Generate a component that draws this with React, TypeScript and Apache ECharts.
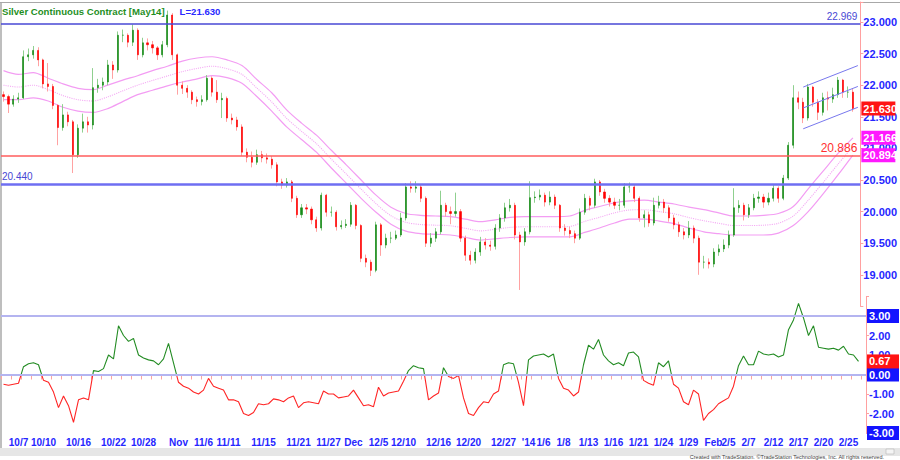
import React, { useEffect, useRef } from 'react';
import * as echarts from 'echarts';

// ---- Price bars (one bar ≈ half a trading day), open = previous close ----
const firstOpen = 21.85;
const closes = [
  21.82, 21.70, 21.78, 21.80, 22.45, 22.48, 22.55, 22.40, 22.02, 21.98,
  21.68, 21.33, 21.53, 21.42, 20.90, 21.32, 21.42, 21.37, 21.96, 22.00,
  22.05, 22.32, 22.24, 22.79, 22.79, 22.68, 22.87, 22.48, 22.67, 22.64,
  22.59, 22.48, 22.64, 23.11, 22.48, 22.00, 21.95, 21.89, 21.77, 21.74,
  21.77, 22.11, 21.89, 21.77, 21.79, 21.48, 21.45, 21.34, 20.94, 20.86,
  20.78, 20.90, 20.85, 20.83, 20.74, 20.47, 20.42, 20.47, 20.21, 19.95,
  20.06, 20.04, 19.87, 19.74, 20.26, 19.99, 19.99, 19.76, 19.78, 19.80,
  20.10, 19.78, 19.26, 19.20, 19.07, 19.79, 19.47, 19.58, 19.58, 19.63,
  19.90, 20.39, 20.37, 20.39, 20.21, 19.50, 19.58, 19.68, 20.10, 20.00,
  19.97, 20.00, 19.58, 19.31, 19.23, 19.36, 19.52, 19.47, 19.45, 19.74,
  19.90, 20.06, 20.10, 19.63, 19.52, 19.68, 20.22, 20.23, 20.26, 20.15,
  20.23, 20.10, 19.74, 19.70, 19.65, 19.58, 19.99, 20.21, 20.10, 20.47,
  20.31, 20.21, 20.15, 20.10, 20.10, 20.39, 20.39, 20.21, 19.90, 19.95,
  19.82, 20.10, 20.15, 20.06, 19.90, 19.79, 19.68, 19.63, 19.74, 19.58,
  19.20, 19.20, 19.17, 19.36, 19.41, 19.47, 19.63, 20.06, 20.10, 19.95,
  20.06, 20.21, 20.23, 20.15, 20.21, 20.37, 20.21, 20.53, 21.05, 21.80,
  21.73, 21.48, 21.97, 21.73, 21.57, 21.80, 21.78, 21.85, 22.08, 21.89,
  21.89, 21.63,
];
const highs = [
  21.90, 21.85, 21.84, 21.88, 22.55, 22.58, 22.62, 22.60, 22.42, 22.35,
  22.02, 21.70, 21.70, 21.58, 21.45, 21.38, 21.55, 21.50, 22.27, 22.10,
  22.12, 22.40, 22.38, 22.85, 22.88, 22.82, 22.96, 22.90, 22.75, 22.74,
  22.70, 22.62, 22.70, 23.18, 23.14, 22.50, 22.06, 22.00, 21.92, 21.82,
  21.84, 22.16, 22.14, 22.08, 21.88, 21.82, 21.55, 21.50, 21.38, 21.00,
  20.95, 20.98, 20.96, 20.92, 20.88, 20.78, 20.52, 20.53, 20.50, 20.25,
  20.12, 20.12, 20.08, 19.92, 20.30, 20.28, 20.08, 20.02, 19.86, 19.88,
  20.15, 20.12, 19.80, 19.32, 19.24, 19.84, 19.82, 19.65, 19.68, 19.70,
  19.98, 20.45, 20.48, 20.48, 20.42, 20.24, 19.66, 19.74, 20.33, 20.14,
  20.08, 20.30, 20.04, 19.62, 19.38, 19.42, 19.60, 19.58, 19.54, 19.80,
  19.96, 20.14, 20.20, 20.14, 19.68, 19.74, 20.48, 20.32, 20.35, 20.30,
  20.32, 20.27, 20.12, 19.80, 19.76, 19.70, 20.05, 20.28, 20.25, 20.52,
  20.50, 20.36, 20.26, 20.22, 20.20, 20.45, 20.46, 20.42, 20.24, 20.02,
  20.00, 20.22, 20.25, 20.20, 20.10, 19.95, 19.84, 19.74, 19.85, 19.78,
  19.62, 19.30, 19.26, 19.42, 19.48, 19.56, 19.70, 20.37, 20.18, 20.14,
  20.12, 20.28, 20.32, 20.28, 20.30, 20.42, 20.40, 20.58, 21.10, 22.00,
  21.90, 21.80, 22.02, 21.99, 21.78, 21.88, 21.90, 21.96, 22.13, 22.10,
  21.98, 21.95,
];
const lows = [
  21.74, 21.56, 21.66, 21.72, 21.78, 22.38, 22.42, 22.30, 21.95, 21.90,
  21.62, 21.05, 21.28, 21.35, 20.61, 20.85, 21.25, 21.25, 21.30, 21.88,
  21.92, 22.00, 22.10, 22.20, 22.68, 22.60, 22.62, 22.40, 22.44, 22.55,
  22.50, 22.40, 22.44, 22.60, 22.40, 21.85, 21.86, 21.80, 21.70, 21.66,
  21.68, 21.74, 21.82, 21.72, 21.48, 21.42, 21.38, 21.28, 20.88, 20.78,
  20.70, 20.74, 20.78, 20.76, 20.68, 20.40, 20.36, 20.38, 20.15, 19.90,
  19.90, 19.96, 19.80, 19.68, 19.70, 19.92, 19.92, 19.70, 19.72, 19.74,
  19.76, 19.72, 19.20, 19.12, 18.98, 19.04, 19.30, 19.42, 19.50, 19.55,
  19.60, 19.86, 20.30, 20.30, 20.15, 19.44, 19.44, 19.52, 19.64, 19.92,
  19.80, 19.92, 19.52, 19.22, 19.16, 19.18, 19.30, 19.40, 19.38, 19.40,
  19.68, 19.84, 20.00, 19.56, 18.76, 19.46, 19.64, 20.14, 20.18, 20.08,
  20.10, 20.04, 19.68, 19.62, 19.58, 19.50, 19.55, 19.95, 20.02, 20.06,
  20.25, 20.14, 20.08, 20.04, 20.02, 20.06, 20.30, 20.15, 19.84, 19.75,
  19.76, 19.78, 20.05, 19.98, 19.84, 19.72, 19.60, 19.56, 19.58, 19.50,
  19.00, 19.10, 19.10, 19.12, 19.30, 19.36, 19.42, 19.60, 19.98, 19.86,
  19.90, 20.02, 20.14, 20.06, 20.10, 20.16, 20.14, 20.18, 20.50, 21.00,
  21.62, 21.40, 21.44, 21.66, 21.45, 21.52, 21.60, 21.72, 21.80, 21.80,
  21.80, 21.58,
];

// ---- Oscillator (lower pane), one value per bar ----
const oscillator = [
  -0.50, -0.55, -0.50, -0.45, 0.40, 0.55, 0.60, 0.50, -0.30, -0.40,
  -0.90, -1.70, -1.10, -1.60, -2.45, -1.30, -1.20, -1.30, 0.20, 0.15,
  0.30, 1.00, 0.80, 2.50, 2.00, 1.70, 1.85, 1.00, 0.85, 0.75,
  0.70, 0.50, 0.80, 1.60, 0.60, -0.40, -0.60, -0.70, -0.90, -1.00,
  -0.80, -0.20, -0.60, -0.70, -0.80, -1.30, -1.30, -1.40, -2.00, -2.10,
  -1.95, -1.50, -1.55, -1.50, -1.25, -1.30, -1.40, -1.20, -1.10, -1.70,
  -1.45, -1.40, -1.45, -1.50, -0.85, -1.00, -1.00, -1.20, -1.15, -1.10,
  -0.80, -1.20, -1.60, -1.55, -1.65, -0.65, -1.10, -0.95, -0.90, -0.85,
  -0.35, 0.20, 0.45, 0.35, 0.30, -1.30, -1.10, -0.95, 0.35, -0.10,
  -0.20, -0.05, -1.20, -2.00, -2.10, -1.70, -1.40, -1.45, -1.00, -0.85,
  0.50, 0.60, 0.55, -0.40, -1.60, 0.75, 0.95, 1.00, 1.05, 0.90,
  1.05, -0.20, -0.70, -0.80, -1.10, -0.90, 0.50, 1.50, 1.30, 1.80,
  1.00, 0.70, 0.50, 0.60, 0.45, 1.10, 1.15, 0.90, -0.30, -0.45,
  -0.55, 0.60, 0.40, 0.70, -0.50, -0.70, -1.40, -1.55, -0.80, -1.00,
  -2.35, -2.00, -1.80, -1.50, -1.35, -1.20, -0.60, 0.45, 0.95, 0.50,
  0.50, 1.20, 1.05, 1.00, 1.05, 0.90, 1.00, 2.30, 2.80, 3.65,
  2.90, 2.00, 2.50, 1.40, 1.35, 1.30, 1.35, 1.25, 1.45, 1.05,
  1.00, 0.67,
];

// ---- Envelope bands, one value every bandStep bars ----
const bandStep = 3;
const bandUpper = [
  22.23, 22.17, 22.20, 22.11, 22.02, 21.95, 21.93, 22.00, 22.08, 22.15,
  22.23, 22.30, 22.38, 22.43, 22.45, 22.40, 22.31, 22.09, 21.88, 21.61,
  21.40, 21.21, 20.97, 20.74, 20.50, 20.26, 20.07, 19.97, 19.94, 19.93,
  19.92, 19.88, 19.84, 19.87, 19.91, 19.92, 19.92, 19.92, 19.93, 20.02,
  20.08, 20.14, 20.17, 20.18, 20.15, 20.12, 20.07, 20.03, 19.98, 19.93,
  19.93, 19.94, 19.97, 20.08, 20.36, 20.64, 20.92, 21.166,
];
const bandLower = [
  21.77, 21.77, 21.80, 21.75, 21.65, 21.59, 21.57, 21.63, 21.74, 21.85,
  21.92, 21.99, 22.05, 22.10, 22.15, 22.12, 22.03, 21.82, 21.59, 21.34,
  21.14, 20.94, 20.69, 20.45, 20.21, 19.99, 19.80, 19.69, 19.65, 19.64,
  19.63, 19.59, 19.55, 19.57, 19.59, 19.60, 19.60, 19.60, 19.60, 19.67,
  19.74, 19.82, 19.88, 19.88, 19.85, 19.81, 19.74, 19.68, 19.65, 19.63,
  19.63, 19.63, 19.66, 19.78, 20.00, 20.28, 20.58, 20.894,
];

// ---- Trend channel (bar index -> price) ----
const channelBars = [161, 172];
const channelUpper = [21.97, 22.31];
const channelMiddle = [21.64, 21.98];
const channelLower = [21.31, 21.65];

// ---- Horizontal levels ----
const levelTop = 22.969;
const levelSupport = 20.44;
const levelRed = 20.886;
const oscLines = [3, 0];
const oscBoxes = [3, 0, -3];

// ---- Date labels on the time axis ----
const tickLabels = [
  '10/7', '10/10', '10/16', '10/22', '10/28', 'Nov', '11/6', '11/11', '11/15', '11/21',
  '11/27', 'Dec', '12/5', '12/10', '12/16', '12/20', '12/27', "'14", '1/6', '1/8',
  '1/13', '1/16', '1/21', '1/24', '1/29', 'Feb', '2/5', '2/7', '2/12', '2/17',
  '2/20', '2/25',
];
const tickBars = [
  3, 8, 15, 22, 28, 35, 40, 45, 52, 59,
  65, 70, 75, 80, 87, 93, 100, 105, 108, 112,
  117, 122, 127, 132, 137, 142, 145, 149, 154, 159,
  164, 169,
];

const FONT = "'Liberation Sans', Arial, Helvetica, sans-serif";
const AXIS_BLUE = '#2626ff';

export default function App() {
  const ref = useRef<HTMLDivElement>(null);

  useEffect(() => {
    const chart = echarts.init(ref.current as HTMLDivElement, null, { renderer: 'svg' });
    const n = closes.length;
    const categories = Array.from({ length: n + 1 }, (_, i) => String(i));
    const opens = closes.map((c, i) => (i === 0 ? firstOpen : closes[i - 1]));
    const wickData = closes.map((c, i) => [opens[i], c, lows[i], highs[i]]);
    const bodyData = closes.map((c, i) => [opens[i], c, Math.min(opens[i], c), Math.max(opens[i], c)]);
    const bandPts = (arr: number[]) => arr.map((v, k) => [Math.min(k * bandStep, n - 1), v]);
    const bandMid = bandUpper.map((u, k) => (u + bandLower[k]) / 2);
    const labelAt = new Map<number, string>(tickBars.map((b, i) => [b, tickLabels[i]]));
    const lastClose = closes[n - 1];
    const lastOsc = oscillator[n - 1];
    const lastUpper = bandUpper[bandUpper.length - 1];
    const lastLower = bandLower[bandLower.length - 1];
    const chan = (vals: number[]) => channelBars.map((b, i) => [b, vals[i]]);

    const boxLabel = (text: string, bg: string, w: number) => ({
      show: true,
      position: 'end',
      distance: 1,
      formatter: text,
      backgroundColor: bg,
      color: '#ffffff',
      fontWeight: 'bold',
      fontSize: 11,
      fontFamily: FONT,
      lineHeight: 13,
      padding: [1, 2, 0, 2],
      width: w,
      align: 'left',
    });
    const hidden = { color: 'rgba(0,0,0,0)', width: 0 };

    const bandLine = (data: number[], dotted: boolean) => ({
      type: 'line',
      xAxisIndex: 0,
      yAxisIndex: 0,
      data: bandPts(data),
      smooth: 0.3,
      showSymbol: false,
      silent: true,
      z: 1,
      lineStyle: dotted
        ? { color: '#f4aaf4', width: 1.1, type: 'dotted' }
        : { color: '#f39df3', width: 1.2 },
    });
    const chanLine = (vals: number[]) => ({
      type: 'line',
      xAxisIndex: 0,
      yAxisIndex: 0,
      data: chan(vals),
      showSymbol: false,
      silent: true,
      z: 4,
      lineStyle: { color: '#7878ee', width: 1 },
    });

    const option: any = {
      animation: false,
      backgroundColor: '#ffffff',
      textStyle: { fontFamily: FONT },
      title: {
        left: 2,
        top: 2,
        padding: 0,
        text: `{g|Silver Continuous Contract [May14]}   {b|L=${lastClose.toFixed(3)}}`,
        textStyle: {
          rich: {
            g: { color: '#1f8f1f', fontWeight: 'bold', fontSize: 9.6, fontFamily: FONT },
            b: { color: '#2a2aff', fontWeight: 'bold', fontSize: 9.6, fontFamily: FONT },
          },
        },
      },
      grid: [
        { left: 1, width: 865, top: 2, height: 304.4 },
        { left: 1, width: 865, top: 296.5, height: 136.5 },
      ],
      xAxis: [
        { type: 'category', gridIndex: 0, data: categories, boundaryGap: true, show: false },
        {
          type: 'category',
          gridIndex: 1,
          data: categories,
          boundaryGap: true,
          axisLine: { show: true, lineStyle: { color: '#b4b4f0', width: 2 } },
          axisTick: { show: true, interval: 1, length: 5, lineStyle: { color: '#ffa0a0' } },
          axisLabel: {
            interval: (i: number) => labelAt.has(i),
            formatter: (v: string) => labelAt.get(Number(v)) ?? '',
            color: AXIS_BLUE,
            fontWeight: 'bold',
            fontSize: 10,
            fontFamily: FONT,
            margin: 4,
          },
          splitLine: { show: false },
        },
      ],
      yAxis: [
        {
          type: 'value',
          gridIndex: 0,
          position: 'right',
          min: 18.5,
          max: 23.316,
          interval: 0.5,
          axisLine: { show: true, lineStyle: { color: '#ffa0a0' } },
          axisTick: { show: true, length: 3, lineStyle: { color: '#ffa0a0' } },
          axisLabel: {
            formatter: (v: number) => (v < 18.9 || v > 23.1 ? '' : v.toFixed(3)),
            color: AXIS_BLUE,
            fontWeight: 'bold',
            fontSize: 11,
            fontFamily: FONT,
            margin: 3,
          },
          splitLine: { show: false },
        },
        {
          type: 'value',
          gridIndex: 1,
          position: 'right',
          min: -3,
          max: 4,
          interval: 1,
          axisLine: { show: true, lineStyle: { color: '#ffa0a0' } },
          axisTick: { show: true, length: 3, lineStyle: { color: '#ffa0a0' } },
          axisLabel: {
            formatter: (v: number) => (v > 3.5 || oscBoxes.includes(v) ? '' : v.toFixed(2)),
            color: AXIS_BLUE,
            fontWeight: 'bold',
            fontSize: 11,
            fontFamily: FONT,
            margin: 3,
          },
          splitLine: { show: false },
        },
      ],
      visualMap: {
        show: false,
        type: 'piecewise',
        seriesIndex: 8,
        dimension: 1,
        pieces: [
          { gte: -10, lt: 0, color: '#ff2424' },
          { gte: 0, lte: 10, color: '#228b22' },
        ],
      },
      series: [
        bandLine(bandUpper, false),
        bandLine(bandLower, false),
        bandLine(bandMid, true),
        {
          type: 'candlestick',
          xAxisIndex: 0,
          yAxisIndex: 0,
          data: wickData,
          barWidth: 1,
          silent: true,
          z: 2,
          itemStyle: {
            color: '#8fd08f',
            color0: '#ffa2a2',
            borderColor: '#8fd08f',
            borderColor0: '#ffa2a2',
            borderWidth: 1,
          },
        },
        {
          type: 'candlestick',
          xAxisIndex: 0,
          yAxisIndex: 0,
          data: bodyData,
          barWidth: 1.6,
          silent: true,
          z: 3,
          itemStyle: {
            color: '#178a17',
            color0: '#ff0000',
            borderColor: '#178a17',
            borderColor0: '#ff0000',
            borderWidth: 0.6,
          },
          markLine: {
            symbol: 'none',
            silent: true,
            data: [
              {
                yAxis: levelTop,
                lineStyle: { color: '#4848d4', width: 1.5, type: 'solid' },
                label: { show: true, position: 'insideEndTop', formatter: levelTop.toFixed(3), color: '#4848d4', fontSize: 10, fontFamily: FONT, distance: [3, 2] },
              },
              {
                yAxis: levelSupport,
                lineStyle: { color: '#6e6ef2', width: 2.5, type: 'solid' },
                label: { show: true, position: 'insideStartTop', formatter: levelSupport.toFixed(3), color: '#4848d4', fontSize: 10, fontFamily: FONT, distance: [1, 2] },
              },
              {
                yAxis: levelRed,
                lineStyle: { color: '#ff5c5c', width: 1.5, type: 'solid' },
                label: { show: true, position: 'insideEndTop', formatter: levelRed.toFixed(3), color: '#ff3030', fontSize: 12, fontFamily: FONT, distance: [3, 1] },
              },
              { yAxis: lastClose, lineStyle: hidden, label: boxLabel(lastClose.toFixed(3), '#ff1414', 30) },
              { yAxis: lastUpper, lineStyle: hidden, label: boxLabel(lastUpper.toFixed(3), '#ff18ff', 30) },
              { yAxis: lastLower, lineStyle: hidden, label: boxLabel(lastLower.toFixed(3), '#ff18ff', 30) },
            ],
          },
        },
        chanLine(channelUpper),
        chanLine(channelMiddle),
        chanLine(channelLower),
        {
          type: 'line',
          xAxisIndex: 1,
          yAxisIndex: 1,
          data: oscillator,
          showSymbol: false,
          silent: true,
          z: 3,
          lineStyle: { width: 1.1 },
          markLine: {
            symbol: 'none',
            silent: true,
            data: [
              ...oscLines.map((v) => ({ yAxis: v, lineStyle: { color: '#b4b4f0', width: 2, type: 'solid' }, label: { show: false } })),
              ...oscBoxes.map((v) => ({ yAxis: v, lineStyle: hidden, label: boxLabel(v.toFixed(2), '#1414ff', 28) })),
              { yAxis: lastOsc, lineStyle: hidden, label: boxLabel(lastOsc.toFixed(2), '#ff1414', 28) },
            ],
          },
        },
      ],
      graphic: [
        { type: 'line', silent: true, shape: { x1: 0, y1: 2.5, x2: 900, y2: 2.5 }, style: { stroke: '#a8a8a8', lineWidth: 1 } },
        { type: 'line', silent: true, shape: { x1: 1, y1: 2, x2: 1, y2: 448 }, style: { stroke: '#a8a8a8', lineWidth: 1.5 } },
        { type: 'rect', silent: true, shape: { x: 0, y: 448, width: 900, height: 8 }, style: { fill: '#e6e6e6' } },
        { type: 'rect', silent: true, shape: { x: 886, y: 449, width: 8, height: 5 }, style: { fill: '#f4f4f4', stroke: '#aaaaaa', lineWidth: 0.5 } },
        {
          type: 'text',
          silent: true,
          x: 884,
          y: 460,
          style: {
            text: 'Created with TradeStation. ©TradeStation Technologies, Inc. All rights reserved.',
            fontSize: 5.5,
            fontFamily: FONT,
            fill: '#444444',
            align: 'right',
            verticalAlign: 'bottom',
          },
        },
      ],
    };

    chart.setOption(option);
    return () => chart.dispose();
  }, []);

  return (
    <div
      ref={ref}
      style={{ position: 'fixed', left: 0, top: 0, width: 900, height: 460, background: '#ffffff' }}
    />
  );
}
